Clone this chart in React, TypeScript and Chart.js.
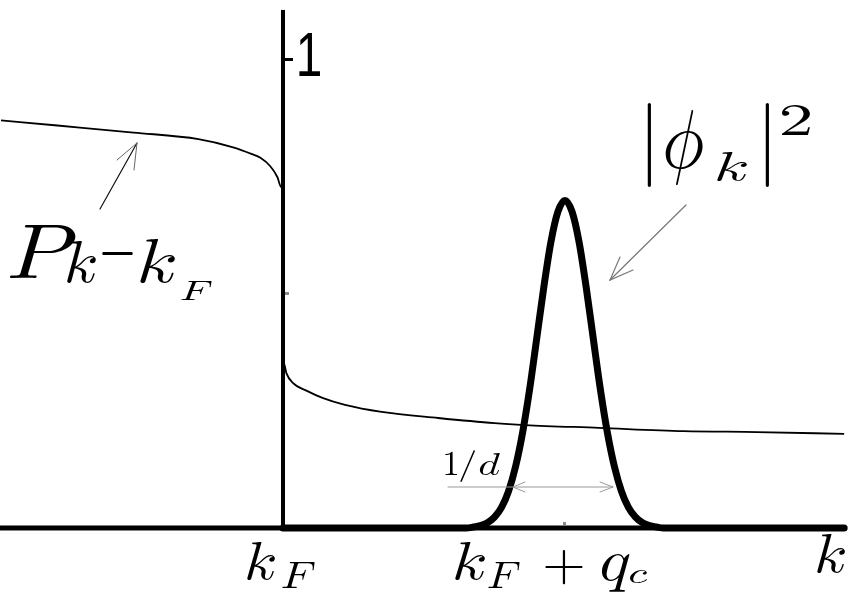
import React, { useEffect, useRef } from "react";
import { Chart, registerables } from "chart.js";

Chart.register(...registerables);

// ---- data (k in units where k_F = 1, k_F + q_c = 2) ----
const pK = [
  0.0, 0.2, 0.47, 0.7, 0.82, 0.89, 0.92, 0.955, 0.98, 0.993, 0.999,
  1.001, 1.004, 1.012, 1.035, 1.085, 1.14, 1.22, 1.35, 1.55, 1.75, 1.86, 2.12, 2.42, 2.68, 2.99,
];
const pValues = [
  0.871, 0.86, 0.845, 0.831, 0.814, 0.799, 0.791, 0.773, 0.75, 0.729, 0.714,
  0.359, 0.35, 0.331, 0.31, 0.293, 0.278, 0.263, 0.248, 0.235, 0.224, 0.22, 0.214, 0.207, 0.205, 0.201,
];
const phiK = [
  1.0, 1.6, 1.65, 1.675, 1.7, 1.725, 1.75, 1.775, 1.8, 1.825, 1.85, 1.875, 1.9, 1.925, 1.95, 1.975,
  2.0, 2.025, 2.05, 2.075, 2.1, 2.125, 2.15, 2.175, 2.2, 2.225, 2.25, 2.275, 2.3, 2.325, 2.35, 2.4, 2.99,
];
const phiValues = [
  0, 0, 0, 0.002, 0.005, 0.011, 0.023, 0.044, 0.079, 0.132, 0.205, 0.298, 0.406, 0.515, 0.611, 0.676,
  0.7, 0.676, 0.611, 0.515, 0.406, 0.298, 0.205, 0.132, 0.079, 0.044, 0.023, 0.011, 0.005, 0.002, 0, 0, 0,
];
const K_F = 1;
const K_FQ = 2;
const Y_TICK = 1;
const Y_MINOR = 0.5;
const K_MIN = -0.0035;
const K_MAX = 3.0284;
const Y_MIN = -0.1838;
const Y_MAX = 1.1282;
const Y_AXIS_TOP = 1.107;
const X_AXIS_END = 2.985;

const MATH = '100px "Latin Modern Math", "DejaVu Serif", serif';
const SANS = '100px "Liberation Sans", Arial, sans-serif';

type Run = { t: string; f: string; b: [number, number, number, number] };

// label runs: boxes relative to an anchor (x0, y0, x1, y1)
const kFLabel: Run[] = [
  { t: "𝑘", f: MATH, b: [-36, 543, -8, 580] },
  { t: "𝐹", f: MATH, b: [-1, 562, 32, 588] },
];
const kFqLabel: Run[] = [
  { t: "𝑘", f: MATH, b: [-110, 543, -80, 580] },
  { t: "𝐹", f: MATH, b: [-77, 562, -45, 588] },
  { t: "+", f: MATH, b: [-20, 550, 18, 585] },
  { t: "𝑞", f: MATH, b: [37, 555, 65, 592] },
  { t: "𝑐", f: MATH, b: [65, 570, 82, 583] },
];
const oneLabel: Run[] = [{ t: "1", f: SANS, b: [16, -28, 37, 16] }];
const freeRuns: Run[] = [
  { t: "𝑃", f: MATH, b: [10, 225, 76, 278] },
  { t: "𝑘", f: MATH, b: [67, 242, 96, 283] },
  { t: "\u2212", f: MATH, b: [102, 252, 133, 255] },
  { t: "𝑘", f: MATH, b: [140, 240, 175, 283] },
  { t: "𝐹", f: MATH, b: [181, 281, 212, 300] },
  { t: "|", f: MATH, b: [647, 103, 651, 188] },
  { t: "𝜙", f: MATH, b: [665, 110, 703, 185] },
  { t: "𝑘", f: MATH, b: [717, 152, 747, 180] },
  { t: "|", f: MATH, b: [765, 103, 769, 188] },
  { t: "2", f: MATH, b: [782, 105, 810, 135] },
  { t: "1", f: MATH, b: [445, 452, 457, 475] },
  { t: "/", f: MATH, b: [460, 450, 475, 482] },
  { t: "𝑑", f: MATH, b: [480, 452, 500, 475] },
  { t: "𝑘", f: MATH, b: [817, 535, 845, 573] },
];

function fitText(ctx: CanvasRenderingContext2D, r: Run, ox: number, oy: number) {
  const [x0, y0, x1, y1] = r.b;
  ctx.save();
  ctx.font = r.f;
  ctx.textAlign = "left";
  ctx.textBaseline = "alphabetic";
  const m = ctx.measureText(r.t);
  const w = m.actualBoundingBoxLeft + m.actualBoundingBoxRight || 1;
  const h = m.actualBoundingBoxAscent + m.actualBoundingBoxDescent || 1;
  const sx = (x1 - x0) / w;
  const sy = (y1 - y0) / h;
  ctx.translate(ox + x0 + m.actualBoundingBoxLeft * sx, oy + y0 + m.actualBoundingBoxAscent * sy);
  ctx.scale(sx, sy);
  ctx.fillStyle = "#000";
  ctx.fillText(r.t, 0, 0);
  ctx.restore();
}

function seg(ctx: CanvasRenderingContext2D, pts: number[][], color: string, width: number) {
  ctx.save();
  ctx.strokeStyle = color;
  ctx.lineWidth = width;
  ctx.lineCap = "round";
  ctx.beginPath();
  ctx.moveTo(pts[0][0], pts[0][1]);
  for (let i = 1; i < pts.length; i++) ctx.lineTo(pts[i][0], pts[i][1]);
  ctx.stroke();
  ctx.restore();
}

const decor = {
  id: "decor",
  afterDatasetsDraw(chart: any) {
    const ctx: CanvasRenderingContext2D = chart.ctx;
    const xs = chart.scales.x;
    const ys = chart.scales.y;
    const ox = chart.chartArea.left;
    const oy = chart.chartArea.top;
    const x0 = xs.getPixelForValue(K_F);
    const yb = ys.getPixelForValue(0);
    const yTop = ys.getPixelForValue(Y_AXIS_TOP);
    ctx.save();
    ctx.fillStyle = "#000";
    ctx.fillRect(x0 - 2, yTop, 4, yb - yTop + 2);
    ctx.fillRect(xs.getPixelForValue(K_MIN), yb - 2.5, xs.getPixelForValue(X_AXIS_END) - xs.getPixelForValue(K_MIN), 5);
    const y1 = ys.getPixelForValue(Y_TICK);
    ctx.fillRect(x0, y1 - 2, 10, 3);
    ctx.fillStyle = "#8a8a8a";
    ctx.fillRect(x0 + 2, ys.getPixelForValue(Y_MINOR) - 2, 4, 3);
    ctx.fillRect(xs.getPixelForValue(K_FQ) - 2, yb - 6, 3, 3);
    ctx.restore();

    kFLabel.forEach((r) => fitText(ctx, r, x0, oy));
    const x2 = xs.getPixelForValue(K_FQ);
    kFqLabel.forEach((r) => fitText(ctx, r, x2, oy));
    oneLabel.forEach((r) => fitText(ctx, r, x0, y1));
    freeRuns.forEach((r) => fitText(ctx, r, ox, oy));

    seg(ctx, [[ox + 100, oy + 209], [ox + 137, oy + 143]], "#111", 1.2);
    seg(ctx, [[ox + 117, oy + 160], [ox + 137, oy + 143], [ox + 134, oy + 170]], "#666", 1);
    seg(ctx, [[ox + 686, oy + 205], [ox + 610, oy + 280]], "#777", 1.2);
    seg(ctx, [[ox + 620, oy + 257], [ox + 610, oy + 280], [ox + 633, oy + 270]], "#777", 1.2);
    seg(ctx, [[ox + 448, oy + 487], [ox + 613, oy + 487]], "#9a9a9a", 1);
    seg(ctx, [[ox + 525, oy + 482], [ox + 513, oy + 487], [ox + 525, oy + 492]], "#9a9a9a", 1);
    seg(ctx, [[ox + 600, oy + 482], [ox + 613, oy + 487], [ox + 600, oy + 492]], "#9a9a9a", 1);
  },
};

export default function App() {
  const ref = useRef<HTMLCanvasElement | null>(null);
  useEffect(() => {
    if (!ref.current) return;
    const chart = new Chart(ref.current, {
      type: "line",
      data: {
        datasets: [
          {
            data: pK.map((k, i) => ({ x: k, y: pValues[i] })),
            borderColor: "#000",
            borderWidth: 1.8,
            pointRadius: 0,
            cubicInterpolationMode: "monotone",
            fill: false,
          },
          {
            data: phiK.map((k, i) => ({ x: k, y: phiValues[i] })),
            borderColor: "#000",
            borderWidth: 7,
            pointRadius: 0,
            cubicInterpolationMode: "monotone",
            borderJoinStyle: "round",
            borderCapStyle: "round",
            fill: false,
          },
        ],
      },
      options: {
        responsive: false,
        animation: false,
        devicePixelRatio: 1,
        events: [],
        layout: { padding: 0 },
        plugins: { legend: { display: false }, tooltip: { enabled: false } },
        scales: {
          x: { type: "linear", min: K_MIN, max: K_MAX, display: false },
          y: { type: "linear", min: Y_MIN, max: Y_MAX, display: false },
        },
      } as any,
      plugins: [decor],
    });
    return () => chart.destroy();
  }, []);
  return (
    <div style={{ position: "fixed", left: 0, top: 0, width: 855, height: 614, background: "#fff" }}>
      <canvas ref={ref} width={855} height={614} />
    </div>
  );
}
